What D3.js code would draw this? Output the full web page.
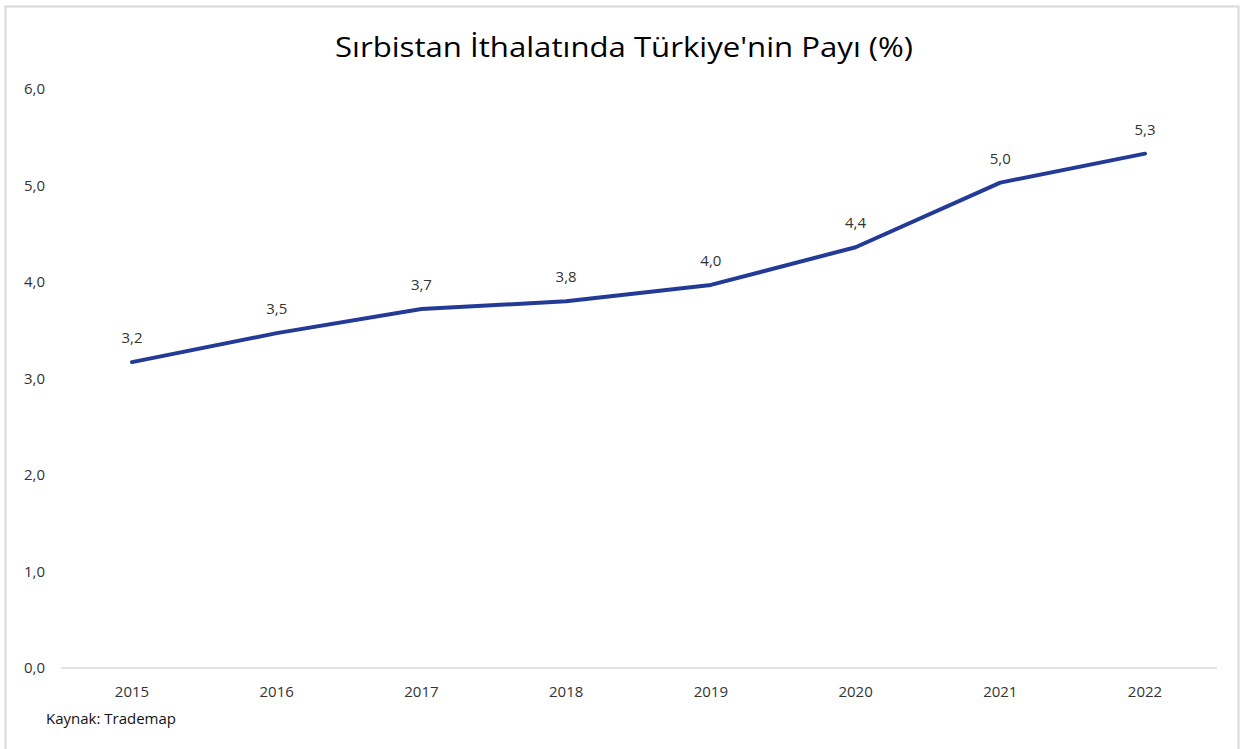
<!DOCTYPE html>
<html><head><meta charset="utf-8">
<script src="https://cdn.jsdelivr.net/npm/d3@7"></script>
<style>body{margin:0;background:#fff;} svg{display:block;}</style>
</head><body>
<svg id="chart" width="1248" height="749"></svg>
<script>
const categories = ["2015","2016","2017","2018","2019","2020","2021","2022"];
const values = [3.17, 3.47, 3.72, 3.80, 3.97, 4.36, 5.03, 5.33];
const labels = ["3,2","3,5","3,7","3,8","4,0","4,4","5,0","5,3"];
const yTicks = [0,1,2,3,4,5,6];
const title = "Sırbistan İthalatında Türkiye'nin Payı (%)";
const source = "Kaynak: Trademap";

const svg = d3.select("#chart");
const font = "'Open Sans', 'Noto Sans', sans-serif";
svg.append("rect").attr("x",5.5).attr("y",6.5).attr("width",1233).attr("height",760)
  .attr("fill","#fff").attr("stroke","#d9d9d9").attr("stroke-width",2);

const x = d3.scalePoint().domain(categories).range([132,1145]);
const y = d3.scaleLinear().domain([0,6]).range([668,89]);

svg.append("text").attr("x",624).attr("y",57).attr("text-anchor","middle")
  .attr("font-family",font).attr("font-size",28).attr("fill","#000")
  .attr("textLength",578).attr("lengthAdjust","spacingAndGlyphs").text(title);

svg.append("line").attr("x1",61).attr("x2",1217).attr("y1",y(0)).attr("y2",y(0))
  .attr("stroke","#d9d9d9").attr("stroke-width",1.5);

svg.selectAll(".yt").data(yTicks).join("text")
  .attr("x",45).attr("y",d=>y(d)+5).attr("text-anchor","end")
  .attr("font-family",font).attr("font-size",15).attr("fill","#333")
  .text(d=>d3.format(".1f")(d).replace(".",","));

svg.selectAll(".xt").data(categories).join("text")
  .attr("x",d=>x(d)).attr("y",697).attr("text-anchor","middle")
  .attr("font-family",font).attr("font-size",15).attr("fill","#333")
  .text(d=>d);

const line = d3.line().x((d,i)=>x(categories[i])).y(d=>y(d));
svg.append("path").datum(values).attr("d",line).attr("fill","none")
  .attr("stroke","#233a96").attr("stroke-width",4).attr("stroke-linejoin","round").attr("stroke-linecap","round");

svg.selectAll(".dl").data(values).join("text")
  .attr("x",(d,i)=>x(categories[i])).attr("y",d=>y(d)-19).attr("text-anchor","middle")
  .attr("font-family",font).attr("font-size",15).attr("fill","#333")
  .text((d,i)=>labels[i]);

svg.append("text").attr("x",46).attr("y",724).attr("font-family",font)
  .attr("font-size",15).attr("fill","#111").text(source);
</script>
</body></html>
